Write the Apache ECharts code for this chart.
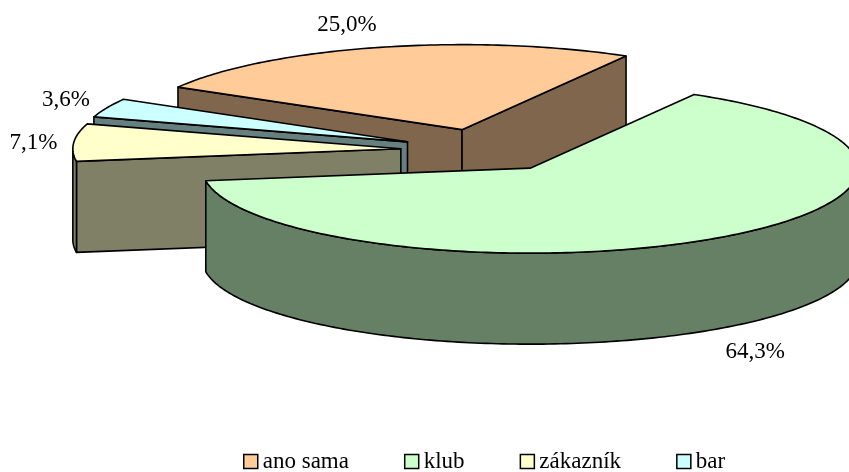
<!DOCTYPE html>
<html><head><meta charset="utf-8">
<style>html,body{margin:0;padding:0;background:#fff}#c{width:849px;height:472px}</style>
<script src="https://cdn.jsdelivr.net/npm/echarts@6/dist/echarts.min.js"></script>
</head><body><div id="c"></div>
<script>
const categories = ['ano sama', 'klub', 'zákazník', 'bar'];
const shares = [25.0, 64.3, 7.1, 3.6];
const topColors = ['#FFCC99', '#CCFFCC', '#FFFFCC', '#CCFFFF'];
const sideColors = ['#80664D', '#668066', '#808066', '#668080'];
const labelOffsets = [[-115, -104.5], [225, 184], [-367.5, -5.5], [-341.5, -42]];

const startAngle = -60, cx = 483.5, cy = 150.4, rx = 328, ry = 85, depth = 91, explode = 0.2527;
const FONT = '"Liberation Serif","Times New Roman",serif';
const rad = d => d * Math.PI / 180;
const total = shares.reduce((a, b) => a + b, 0);

let acc = startAngle;
const slices = shares.map((v, i) => {
  const a0 = acc, a1 = acc + v / total * 360; acc = a1;
  const m = (a0 + a1) / 2;
  return {
    i, a0, a1, m,
    ax: cx + explode * rx * Math.sin(rad(m)),
    ay: cy - explode * ry * Math.cos(rad(m))
  };
});
function rim(s, t) { return [s.ax + rx * Math.sin(rad(t)), s.ay - ry * Math.cos(rad(t))]; }
function arc(s, from, to) {
  const pts = [], n = Math.max(2, Math.ceil(Math.abs(to - from)));
  for (let k = 0; k <= n; k++) pts.push(rim(s, from + (to - from) * k / n));
  return pts;
}
const down = p => [p[0], p[1] + depth];

function sliceElements(s) {
  const line = { stroke: '#000', lineWidth: 1.6, lineJoin: 'round' };
  const side = Object.assign({ fill: sideColors[s.i] }, line);
  const els = [];
  const apex = [s.ax, s.ay];
  const face = t => {
    const p = rim(s, t);
    els.push({ type: 'polygon', shape: { points: [apex, p, down(p), down(apex)] }, style: side });
  };
  if (Math.sin(rad(s.a0)) < 0) face(s.a0);
  if (Math.sin(rad(s.a1)) > 0) face(s.a1);
  // front-facing part of the outer wall: angles 90..270
  [[90, 270], [450, 630]].forEach(([lo, hi]) => {
    const f = Math.max(s.a0, lo), t = Math.min(s.a1, hi);
    if (t > f) {
      const a = arc(s, f, t);
      els.push({ type: 'polygon', shape: { points: a.concat(a.map(down).reverse()) }, style: side });
    }
  });
  els.push({ type: 'polygon', shape: { points: [apex].concat(arc(s, s.a0, s.a1)) },
    style: Object.assign({ fill: topColors[s.i] }, line) });
  const off = labelOffsets[s.i];
  els.push({ type: 'text', style: {
    x: s.ax + off[0], y: s.ay + off[1],
    text: shares[s.i].toFixed(1).replace('.', ',') + '%',
    font: '23px ' + FONT, fill: '#000', align: 'center', verticalAlign: 'middle' } });
  return { type: 'group', children: els };
}

// paint from the back of the pie to the front
const drawOrder = slices.slice().sort((p, q) => Math.cos(rad(q.m)) - Math.cos(rad(p.m)));
const series = drawOrder.map((s, rank) => ({
  type: 'custom', name: categories[s.i], coordinateSystem: 'none', z: 2 + rank,
  data: [shares[s.i]], itemStyle: { color: topColors[s.i] },
  silent: true, clip: false,
  renderItem: () => sliceElements(s)
}));

const chart = echarts.init(document.getElementById('c'), null, { renderer: 'canvas' });
chart.setOption({
  animation: false,
  backgroundColor: '#fff',
  legend: {
    data: categories.map((n, i) => ({ name: n, itemStyle: { color: topColors[i] } })),
    left: 243, top: 450, itemWidth: 14, itemHeight: 14, itemGap: 55, selectedMode: false,
    icon: 'rect', padding: 0,
    itemStyle: { borderColor: '#000', borderWidth: 1.5 },
    textStyle: { fontFamily: FONT, fontSize: 23, color: '#000', padding: 0 }
  },
  series
});
</script></body></html>
